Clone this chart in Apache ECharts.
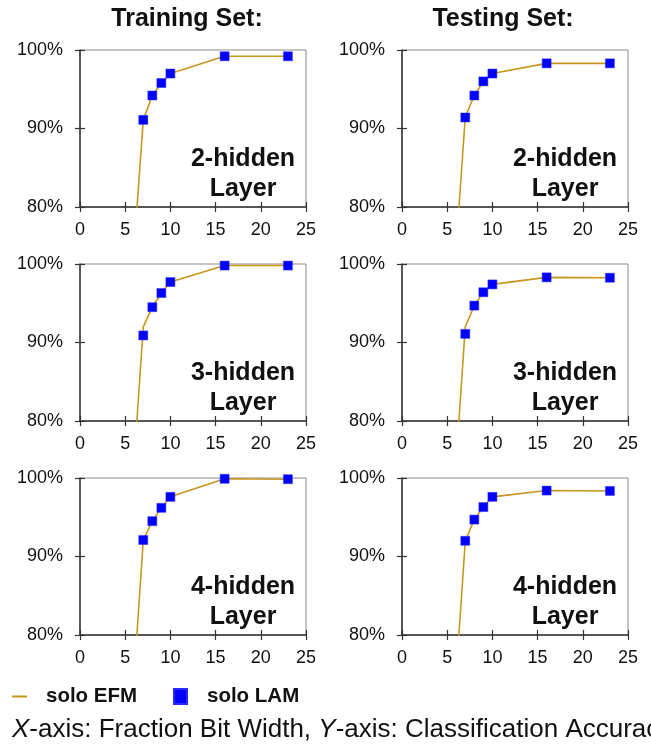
<!DOCTYPE html>
<html>
<head>
<meta charset="utf-8">
<script src="https://cdn.jsdelivr.net/npm/echarts@6/dist/echarts.min.js"></script>
<style>
  html, body { margin: 0; padding: 0; background: #fff; }
  #chart { width: 651px; height: 750px; }
</style>
</head>
<body>
<div id="chart"></div>
<script>
// x positions (fraction bit width)
const efmBits = [6, 7, 8, 9, 10, 16, 23];
const lamBits = [7, 8, 9, 10, 16, 23];

// accuracy in %
const trainEfm2 = [75, 91.1, 94.2, 95.8, 97.0, 99.2, 99.2];
const trainLam2 = [91.1, 94.2, 95.8, 97.0, 99.2, 99.2];
const testEfm2 = [75, 91.5, 94.2, 96.0, 97.0, 98.3, 98.3];
const testLam2 = [91.4, 94.2, 96.0, 97.0, 98.3, 98.3];

const trainEfm3 = [75, 92.0, 94.5, 96.3, 97.7, 99.8, 99.8];
const trainLam3 = [90.9, 94.5, 96.3, 97.7, 99.8, 99.8];
const testEfm3 = [75, 92.0, 94.7, 96.4, 97.4, 98.3, 98.25];
const testLam3 = [91.1, 94.7, 96.4, 97.4, 98.3, 98.25];

const trainEfm4 = [75, 92.1, 94.5, 96.2, 97.6, 99.9, 99.85];
const trainLam4 = [92.1, 94.5, 96.2, 97.6, 99.9, 99.85];
const testEfm4 = [75, 92.0, 94.7, 96.3, 97.6, 98.4, 98.35];
const testLam4 = [92.0, 94.7, 96.3, 97.6, 98.4, 98.35];

const colTitles = ['Training Set:', 'Testing Set:'];
const rowLabels = ['2-hidden', '3-hidden', '4-hidden'];
const legendNames = ['solo EFM', 'solo LAM'];

const panels = [
  [trainEfm2, trainLam2, testEfm2, testLam2],
  [trainEfm3, trainLam3, testEfm3, testLam3],
  [trainEfm4, trainLam4, testEfm4, testLam4]
];

const FONT = '"Liberation Sans", Arial, sans-serif';
const gold = '#C8961E';
const blue = '#0000FF';
const colLeft = [80, 402];
const titleX = [187, 503];
const rowTop = [50, 264, 478];
const gw = 226, gh = 157;

const chart = echarts.init(document.getElementById('chart'));

const grid = [], xAxis = [], yAxis = [], series = [], graphic = [];

const pair = (xs, ys) => xs.map((x, i) => [x, ys[i]]);

rowTop.forEach((top, r) => {
  colLeft.forEach((left, c) => {
    const g = grid.length;
    grid.push({
      left: left, top: top, width: gw, height: gh,
      show: true, borderColor: '#8a8a8a', borderWidth: 1, backgroundColor: 'transparent'
    });
    // main axes: labels, ticks outside
    xAxis.push({
      gridIndex: g, type: 'value', min: 0, max: 25, interval: 5, position: 'bottom',
      axisLine: { lineStyle: { color: '#333', width: 1.5 } },
      axisTick: { length: 5, lineStyle: { color: '#333', width: 1.2 } },
      axisLabel: { color: '#111', fontSize: 18, fontFamily: FONT, margin: 14 },
      splitLine: { show: false }
    });
    yAxis.push({
      gridIndex: g, type: 'value', min: 80, max: 100, interval: 10, position: 'left',
      axisLine: { lineStyle: { color: '#333', width: 1.5 } },
      axisTick: { length: 5, lineStyle: { color: '#333', width: 1.2 } },
      axisLabel: { color: '#111', fontSize: 18, fontFamily: FONT, margin: 17, formatter: '{value}%' },
      splitLine: { show: false }
    });
    // twin axes only for the inner half of the crossing ticks
    xAxis.push({
      gridIndex: g, type: 'value', min: 0, max: 25, interval: 5, position: 'bottom',
      axisLine: { show: false },
      axisTick: { inside: true, length: 5, lineStyle: { color: '#333', width: 1.2 } },
      axisLabel: { show: false }, splitLine: { show: false }
    });
    yAxis.push({
      gridIndex: g, type: 'value', min: 80, max: 100, interval: 10, position: 'left',
      axisLine: { show: false },
      axisTick: { inside: true, length: 5, lineStyle: { color: '#333', width: 1.2 } },
      axisLabel: { show: false }, splitLine: { show: false }
    });
    const xi = g * 2, yi = g * 2;
    const efm = panels[r][c * 2], lam = panels[r][c * 2 + 1];
    series.push({
      name: legendNames[0], type: 'line', xAxisIndex: xi, yAxisIndex: yi,
      data: pair(efmBits, efm), symbol: 'none', clip: true,
      lineStyle: { color: gold, width: 1.6 }, itemStyle: { color: gold }, z: 2
    });
    series.push({
      name: legendNames[1], type: 'scatter', xAxisIndex: xi, yAxisIndex: yi,
      data: pair(lamBits, lam), symbol: 'rect', symbolSize: 9,
      itemStyle: { color: blue, borderColor: '#2a2aff', borderWidth: 0.5, opacity: 1 }, z: 3
    });
    // panel caption
    graphic.push({
      type: 'text', x: left + gw - 63, y: top + 94,
      style: {
        text: rowLabels[r] + '\nLayer', font: 'bold 25px ' + FONT, fill: '#111',
        align: 'center', verticalAlign: 'top', lineHeight: 30
      }
    });
  });
});

colTitles.forEach((t, c) => {
  graphic.push({
    type: 'text', x: titleX[c], y: 7,
    style: { text: t, font: 'bold 25px ' + FONT, fill: '#111', align: 'center', verticalAlign: 'top' }
  });
});

graphic.push({
  type: 'text', x: 12, y: 717,
  style: {
    text: '{i|X}-axis: Fraction Bit Width, {i|Y}-axis: Classification Accuracy',
    font: '26px ' + FONT, fill: '#111', verticalAlign: 'top',
    rich: { i: { fontStyle: 'italic', fontSize: 26, fontFamily: FONT, fill: '#111' } }
  }
});

const legendText = { fontFamily: FONT, fontSize: 20.5, fontWeight: 'bold', color: '#111' };

chart.setOption({
  animation: false,
  grid: grid,
  xAxis: xAxis,
  yAxis: yAxis,
  series: series,
  graphic: graphic,
  legend: [
    {
      left: 7, top: 681, itemWidth: 15, itemHeight: 2, icon: 'rect',
      textStyle: Object.assign({ padding: [0, 0, 0, 14] }, legendText),
      data: [legendNames[0]]
    },
    {
      left: 168, top: 681, itemWidth: 13, itemHeight: 15, icon: 'rect',
      textStyle: Object.assign({ padding: [0, 0, 0, 15] }, legendText),
      data: [legendNames[1]]
    }
  ]
});
</script>
</body>
</html>
